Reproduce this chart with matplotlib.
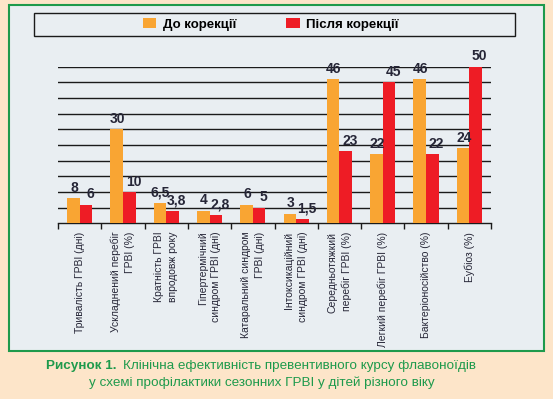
"""
Bar chart: clinical efficacy of preventive flavonoid course (before / after correction).
"""

import numpy as np
import matplotlib.pyplot as plt
from matplotlib.patches import Rectangle

# data
categories = [
    'Тривалість ГРВІ (дні)',
    'Ускладнений перебіг\nГРВІ (%)',
    'Кратність ГРВІ\nвпродовж року',
    'Гіпертермічний\nсиндром ГРВІ (дні)',
    'Катаральний синдром\nГРВІ (дні)',
    'Інтоксикаційний\nсиндром ГРВІ (дні)',
    'Середньотяжкий\nперебіг ГРВІ (%)',
    'Легкий перебіг ГРВІ (%)',
    'Бактеріоносійство (%)',
    'Еубіоз (%)',
]
before = [8, 30, 6.5, 4, 6, 3, 46, 22, 46, 24]
after = [6, 10, 3.8, 2.8, 5, 1.5, 23, 45, 22, 50]
series_names = ['До корекції', 'Після корекції']

colors = ['#F9A533', '#EE1C25']
bg_color = '#FDE5C9'
panel_color = '#E9EEF2'
text_color = '#262637'
caption_color = '#1E9A4C'

W, H = 553, 399
fig = plt.figure(figsize=(W / 100, H / 100), dpi=100)
fig.patch.set_facecolor(bg_color)


def fx(px):
    return px / W


def fy(py):
    return 1 - py / H


# panel with green border
fig.patches.append(Rectangle((fx(9), fy(351)), fx(535), (351 - 5) / H,
                             transform=fig.transFigure, facecolor=panel_color,
                             edgecolor=caption_color, linewidth=1.5, zorder=-2))
# legend frame
fig.patches.append(Rectangle((fx(34), fy(36)), fx(481), 23 / H,
                             transform=fig.transFigure, facecolor=panel_color,
                             edgecolor='#1a1a1a', linewidth=1.0, zorder=-1))

ax = fig.add_axes([fx(58), fy(223.3), fx(433), (223.3 - 66.7) / H])
ax.set_facecolor('none')

x = np.arange(len(categories))
w = 0.29
b1 = ax.bar(x - w / 2, before, w, color=colors[0], label=series_names[0], zorder=3)
b2 = ax.bar(x + w / 2, after, w, color=colors[1], label=series_names[1], zorder=3)

# value labels, red ones nudged right like in the original
value_font = ['Liberation Sans', 'DejaVu Sans']
for bars, vals, dx in ((b1, before, 0.5), (b2, after, 3.0)):
    for rect, v in zip(bars, vals):
        lbl = f'{v:g}'.replace('.', ',')
        ax.annotate(lbl, (rect.get_x() + rect.get_width() / 2, rect.get_height()),
                    xytext=(dx, 2.5), textcoords='offset points', ha='center', va='bottom',
                    fontsize=10, fontweight='bold', color=text_color,
                    family=value_font, zorder=4)

ax.set_xlim(-0.5, len(categories) - 0.5)
ax.set_ylim(0, 50)
ax.set_yticks(np.arange(5, 51, 5))
ax.yaxis.grid(True, color='#1a1a1a', linewidth=1.0)
ax.set_axisbelow(True)
ax.tick_params(axis='y', length=0, labelleft=False)

# boundary ticks (major), labels at centres (minor)
ax.set_xticks(np.arange(-0.5, len(categories), 1.0))
ax.set_xticklabels([])
ax.tick_params(axis='x', which='major', direction='out', length=4, width=1.0, color='#1a1a1a')
ax.set_xticks(x, minor=True)
ax.set_xticklabels(categories, minor=True, rotation=90, ha='center', va='top',
                   multialignment='right', fontsize=7.5, linespacing=1.45,
                   family=['Liberation Sans Narrow', 'Liberation Sans', 'DejaVu Sans'],
                   color=text_color)
ax.tick_params(axis='x', which='minor', length=0, pad=6)

for side in ('left', 'right', 'top'):
    ax.spines[side].set_visible(False)
ax.spines['bottom'].set_color('#1a1a1a')
ax.spines['bottom'].set_linewidth(1.0)

fig.legend(handles=[b1, b2], labels=series_names, loc='center left',
           bbox_to_anchor=(fx(143), fy(24.5)), ncol=2, frameon=False,
           handlelength=1.0, handleheight=0.8, handletextpad=0.5,
           columnspacing=3.8, borderpad=0, borderaxespad=0,
           prop={'family': value_font, 'weight': 'bold', 'size': 9.5})

# caption
cap_font = ['Liberation Sans', 'DejaVu Sans']
fig.text(fx(117), fy(366), 'Рисунок 1.', ha='right', va='center', fontsize=9.7,
         fontweight='bold', color=caption_color, family=cap_font)
fig.text(fx(123), fy(366), 'Клінічна ефективність превентивного курсу флавоноїдів',
         ha='left', va='center', fontsize=9.7, color=caption_color, family=cap_font)
fig.text(fx(262), fy(383), 'у схемі профілактики сезонних ГРВІ у дітей різного віку',
         ha='center', va='center', fontsize=9.7, color=caption_color, family=cap_font)

plt.savefig('out.png', dpi=100, facecolor=fig.get_facecolor())
plt.close()
